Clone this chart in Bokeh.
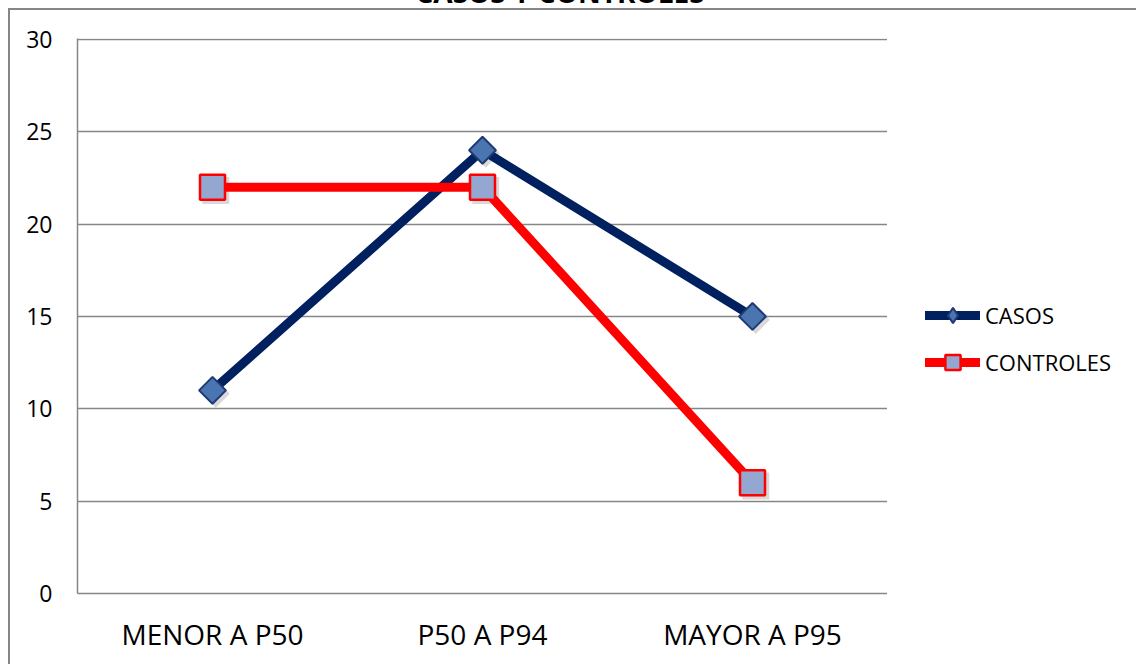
import numpy as np
from bokeh.plotting import figure
from bokeh.layouts import row
from bokeh.models import (Range1d, FactorRange, FixedTicker, Legend, LegendItem,
                          ColumnDataSource)
from bokeh.transform import dodge
from bokeh.embed import file_html
from bokeh.resources import INLINE

# ---- data ----
categories = ["MENOR A P50", "P50 A P94", "MAYOR A P95"]
casos = [11, 24, 15]
controles = [22, 22, 6]
y_ticks = [0, 5, 10, 15, 20, 25, 30]
series_names = ["CASOS", "CONTROLES"]
title_text = "CASOS Y CONTROLES"

FONT = "Open Sans"
GRID = "#868686"
SHIFT = 75  # part of the canvas pushed above the page top (title is cut off there)

src = ColumnDataSource(dict(cat=categories, casos=casos, controles=controles))

p = figure(width=887, height=664 + SHIFT,
           x_range=FactorRange(factors=categories, range_padding=0),
           y_range=Range1d(0, 30.05),
           output_backend="svg", toolbar_location=None,
           min_border_left=77, min_border_right=0,
           min_border_top=38 + SHIFT, min_border_bottom=71,
           title=title_text)

p.background_fill_color = None
p.border_fill_color = None
p.outline_line_color = None

# title
p.title.align = "left"
p.title.offset = 338
p.title.text_font = FONT
p.title.text_font_style = "bold"
p.title.text_font_size = "28px"
p.title.text_color = "black"
p.title.standoff = 55

# axes
p.yaxis.ticker = FixedTicker(ticks=y_ticks)
p.yaxis.major_tick_line_color = None
p.yaxis.minor_tick_line_color = None
p.yaxis.major_tick_out = 0
p.yaxis.major_tick_in = 0
p.yaxis.axis_line_color = GRID
p.yaxis.axis_line_width = 1.5
p.yaxis.major_label_standoff = 25
p.yaxis.major_label_text_font = FONT
p.yaxis.major_label_text_font_size = "23px"
p.yaxis.major_label_text_color = "black"

p.xaxis.major_tick_line_color = None
p.xaxis.minor_tick_line_color = None
p.xaxis.major_tick_out = 0
p.xaxis.major_tick_in = 0
p.xaxis.axis_line_color = GRID
p.xaxis.axis_line_width = 1.5
p.xaxis.major_label_standoff = 21
p.xaxis.major_label_text_font = FONT
p.xaxis.major_label_text_font_size = "28px"
p.xaxis.major_label_text_color = "black"

p.xgrid.grid_line_color = None
p.ygrid.grid_line_color = GRID
p.ygrid.grid_line_width = 1.5

# shadows
p.scatter(x=dodge("cat", 0.012, range=p.x_range), y=dodge("casos", -0.18, range=p.y_range),
          source=src, marker="square", angle=np.pi / 4, size=20,
          fill_color="black", fill_alpha=0.15, line_color=None)
p.scatter(x=dodge("cat", 0.012, range=p.x_range), y=dodge("controles", -0.18, range=p.y_range),
          source=src, marker="square", size=27,
          fill_color="black", fill_alpha=0.15, line_color=None)

# series
CASOS_LINE = dict(line_color="#002060", line_width=9, line_cap="round", line_join="round")
CTRL_LINE = dict(line_color="#FF0000", line_width=9, line_cap="round", line_join="round")
CASOS_MK = dict(fill_color="#4B75B0", line_color="#1F3A73", line_width=2)
CTRL_MK = dict(fill_color="#94A7D1", line_color="#FF0000", line_width=2.5)

p.line(x="cat", y="casos", source=src, **CASOS_LINE)
p.line(x="cat", y="controles", source=src, **CTRL_LINE)
p.scatter(x="cat", y="casos", source=src, marker="square", angle=np.pi / 4, size=19, **CASOS_MK)
p.scatter(x="cat", y="controles", source=src, marker="square", size=25, **CTRL_MK)

# ---- legend figure (right of the plot area) ----
p2 = figure(width=1136 - 887, height=664 + SHIFT,
            x_range=p.x_range, y_range=p.y_range,
            output_backend="svg", toolbar_location=None,
            min_border=0, x_axis_location=None, y_axis_location=None)
p2.background_fill_color = None
p2.border_fill_color = None
p2.outline_line_color = None
for g in p2.grid:
    g.visible = False

lb1 = p2.line(x="cat", y="casos", source=src, visible=False, **CASOS_LINE)
mb1 = p2.scatter(x="cat", y="casos", source=src, marker="diamond", size=19,
                 visible=False, **CASOS_MK)
lb2 = p2.line(x="cat", y="controles", source=src, visible=False, **CTRL_LINE)
mb2 = p2.scatter(x="cat", y="controles", source=src, marker="square", size=25,
                 visible=False, **CTRL_MK)

legend = Legend(items=[LegendItem(label=series_names[0], renderers=[lb1, mb1]),
                       LegendItem(label=series_names[1], renderers=[lb2, mb2])],
                location=(38, 212), glyph_width=55, glyph_height=38, label_height=38,
                spacing=9, padding=0, margin=0, border_line_alpha=0,
                background_fill_alpha=0, inactive_fill_alpha=0,
                label_text_font=FONT, label_text_color="black",
                label_text_font_size="22px", label_standoff=5)
p2.add_layout(legend)

layout = row(p, p2, spacing=0, styles={
    "margin-top": f"-{SHIFT}px",
    "background-color": "white",
    "box-shadow": f"inset 8px {8 + SHIFT}px 0 0 white, inset 10px {10 + SHIFT}px 0 0 {GRID}",
})

open("out.html", "w").write(file_html(layout, INLINE))
